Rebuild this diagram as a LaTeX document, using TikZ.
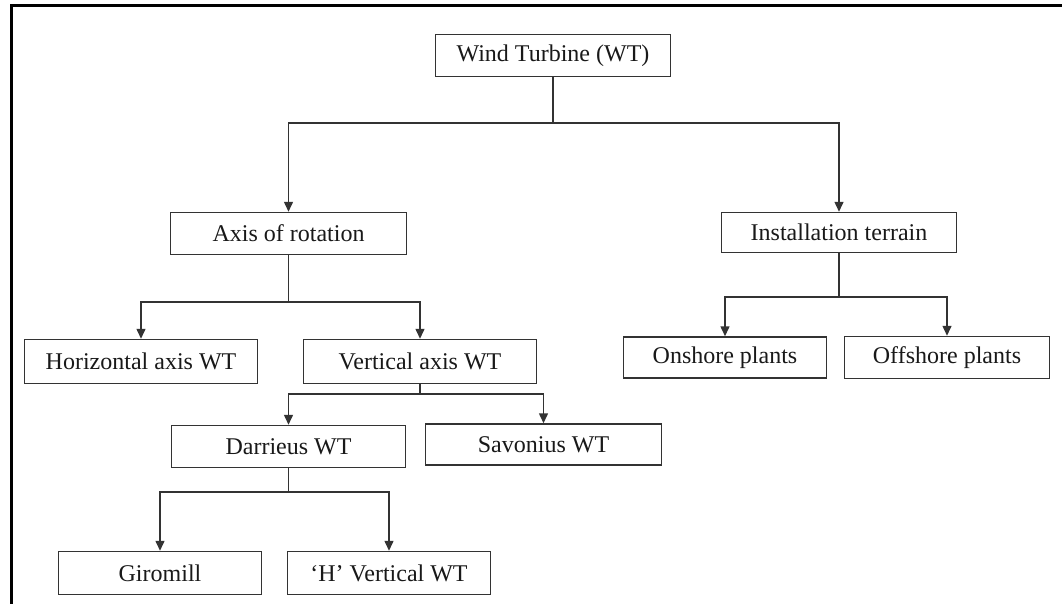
\documentclass[tikz,border=0pt]{standalone}
\usepackage{fontspec}
\setmainfont{Liberation Serif}
\usetikzlibrary{arrows.meta}
\begin{document}
\begin{tikzpicture}[x=1pt,y=-1pt,
  box/.style={draw=black!80, line width=1.5pt, inner sep=0pt, text=black!90,
    font=\fontsize{24}{28}\selectfont},
  conn/.style={draw=black!80, line width=1.5pt},
  arr/.style={conn, -{Triangle[width=9pt,length=10pt]}}]
\useasboundingbox (0,0) rectangle (1062,604);
\fill[white] (0,0) rectangle (1062,604);
\draw[line width=3pt] (11,604) -- (11,6) -- (1062,6);
% nodes
\node[box, minimum width=235pt, minimum height=42pt] (wt) at (553,55.5) {Wind Turbine (WT)};
\node[box, minimum width=236pt, minimum height=42pt] (axis) at (288.5,233.5) {Axis of rotation};
\node[box, minimum width=235pt, minimum height=40pt] (inst) at (839,232.5) {Installation terrain};
\node[box, minimum width=233pt, minimum height=44pt] (hor) at (141,361.5) {Horizontal axis WT};
\node[box, minimum width=233pt, minimum height=44pt] (vert) at (420,361.5) {Vertical axis WT};
\node[box, minimum width=203pt, minimum height=41pt] (on) at (725,357.5) {Onshore plants};
\node[box, minimum width=205pt, minimum height=42pt] (off) at (947,357.5) {Offshore plants};
\node[box, minimum width=234pt, minimum height=42pt] (dar) at (288.5,446.5) {Darrieus WT};
\node[box, minimum width=236pt, minimum height=41pt] (sav) at (543.5,444.5) {Savonius WT};
\node[box, minimum width=203pt, minimum height=43pt] (gir) at (160,573) {Giromill};
\node[box, minimum width=203pt, minimum height=43pt] (hv) at (389,573) {‘H’ Vertical WT};
% junctions
\coordinate (j1) at (553,123);
\coordinate (j2) at (288.5,302);
\coordinate (j3) at (839,297);
\coordinate (j4) at (420,394);
\coordinate (j5) at (288.5,492);
% connectors
\draw[conn] (wt.south) -- (j1);
\draw[arr] (j1) -| (axis.north);
\draw[arr] (j1) -| (inst.north);
\draw[conn] (axis.south) -- (j2);
\draw[arr] (j2) -| (hor.north);
\draw[arr] (j2) -| (vert.north);
\draw[conn] (inst.south) -- (j3);
\draw[arr] (j3) -| (on.north);
\draw[arr] (j3) -| (off.north);
\draw[conn] (vert.south) -- (j4);
\draw[arr] (j4) -| (dar.north);
\draw[arr] (j4) -| (sav.north);
\draw[conn] (dar.south) -- (j5);
\draw[arr] (j5) -| (gir.north);
\draw[arr] (j5) -| (hv.north);
\end{tikzpicture}
\end{document}
